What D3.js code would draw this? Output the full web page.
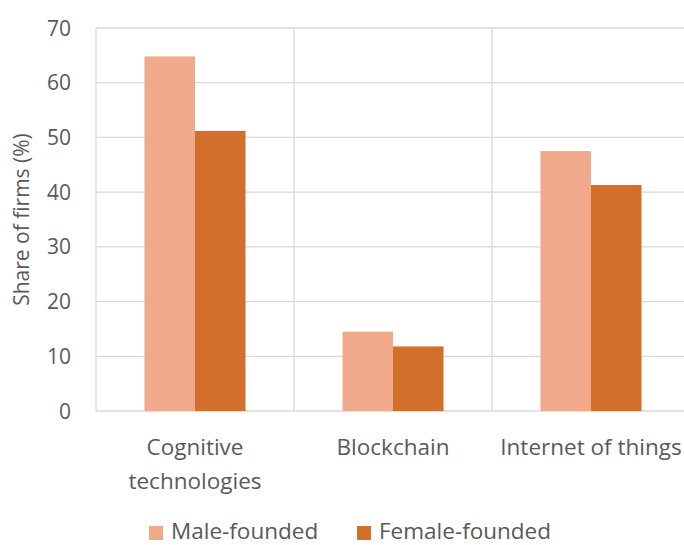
<!DOCTYPE html>
<html lang="en">
<head>
  <meta charset="utf-8">
  <script src="https://d3js.org/d3.v7.min.js"></script>
  <style>
    body { margin: 0; background: #fff; }
    text { font-family: "Open Sans", "Noto Sans", sans-serif; fill: #595959; }
  </style>
</head>
<body>
  <svg width="684" height="545"></svg>
  <script>
    const categories = [["Cognitive", "technologies"], ["Blockchain"], ["Internet of things"]];
    const seriesNames = ["Male-founded", "Female-founded"];
    const male = [64.8, 14.5, 47.5];
    const female = [51.2, 11.8, 41.3];
    const yTicks = [0, 10, 20, 30, 40, 50, 60, 70];
    const colors = ["#F1A98B", "#D26F2B"];

    const svg = d3.select("svg");
    const margin = { left: 96, right: -6, top: 28, bottom: 134 };
    const W = 684, H = 545;

    const x = d3.scaleBand()
      .domain(d3.range(categories.length))
      .range([margin.left, W - margin.right]);
    const xInner = d3.scaleBand()
      .domain(d3.range(seriesNames.length))
      .range([0, x.bandwidth()])
      .paddingOuter(0.96);
    const y = d3.scaleLinear().domain([0, 70]).range([H - margin.bottom, margin.top]);

    // horizontal gridlines
    svg.append("g").selectAll("line").data(yTicks).join("line")
      .attr("x1", margin.left).attr("x2", W - margin.right)
      .attr("y1", d => y(d)).attr("y2", d => y(d))
      .attr("stroke", "#d9d9d9").attr("stroke-width", 1.3);

    // vertical category separators
    svg.append("g").selectAll("line").data(d3.range(categories.length)).join("line")
      .attr("x1", d => x(d)).attr("x2", d => x(d))
      .attr("y1", y(70)).attr("y2", y(0))
      .attr("stroke", "#d9d9d9").attr("stroke-width", 1.3);

    const series = [male, female];
    series.forEach((vals, s) => {
      svg.append("g").selectAll("rect").data(vals).join("rect")
        .attr("x", (d, i) => x(i) + xInner(s))
        .attr("width", xInner.bandwidth())
        .attr("y", d => y(d))
        .attr("height", d => y(0) - y(d))
        .attr("fill", colors[s]);
    });

    // y tick labels
    svg.append("g").selectAll("text").data(yTicks).join("text")
      .attr("x", 71).attr("y", d => y(d)).attr("dy", "0.36em")
      .attr("text-anchor", "end").attr("font-size", 21)
      .text(d => d);

    svg.append("text")
      .attr("transform", `translate(29, ${(y(0) + y(70)) / 2}) rotate(-90)`)
      .attr("text-anchor", "middle").attr("font-size", 21)
      .text("Share of firms (%)");

    // category labels
    const cl = svg.append("g").selectAll("text").data(categories).join("text")
      .attr("text-anchor", "middle").attr("font-size", 22.5)
      .attr("x", (d, i) => x(i) + x.bandwidth() / 2)
      .attr("y", 455);
    cl.selectAll("tspan").data(d => d).join("tspan")
      .attr("x", function () { return d3.select(this.parentNode).attr("x"); })
      .attr("dy", (d, i) => i === 0 ? 0 : 34)
      .text(d => d);

    // legend
    const legendX = [149, 357];
    seriesNames.forEach((name, s) => {
      svg.append("rect").attr("x", legendX[s]).attr("y", 526)
        .attr("width", 14).attr("height", 14).attr("fill", colors[s]);
      svg.append("text").attr("x", legendX[s] + 22).attr("y", 539)
        .attr("font-size", 22.5).text(name);
    });
  </script>
</body>
</html>
